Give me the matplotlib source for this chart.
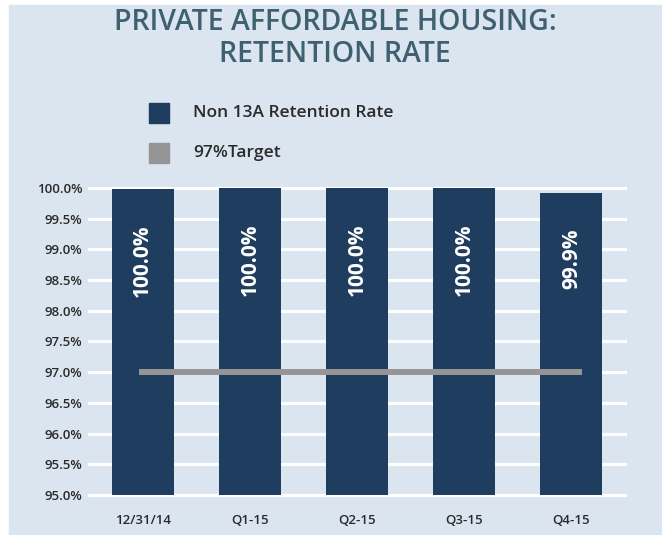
import matplotlib.pyplot as plt
import numpy as np
from matplotlib.patches import Rectangle

# data
periods = ['12/31/14', 'Q1-15', 'Q2-15', 'Q3-15', 'Q4-15']
retention = [99.98, 100.0, 100.0, 100.0, 99.92]
bar_labels = ['100.0%', '100.0%', '100.0%', '100.0%', '99.9%']
target = [97.0, 97.0]
series_names = ['Non 13A Retention Rate', '97%Target']
yticks = [95.0, 95.5, 96.0, 96.5, 97.0, 97.5, 98.0, 98.5, 99.0, 99.5, 100.0]

navy = '#1f3d5e'
grey = '#959595'
panel = '#dae5f0'
title_col = '#3e6070'
text_col = '#2a2a2a'

plt.rcParams['font.family'] = ['Open Sans', 'DejaVu Sans']

W, H = 662, 535
fig = plt.figure(figsize=(W / 100, H / 100), dpi=100, facecolor='white')

# light blue panel behind everything
fig.patches.append(Rectangle((9 / W, 1 / H), 1 - 9 / W, 1 - 6 / H,
                             transform=fig.transFigure, color=panel, zorder=-10))

fig.text(335 / W, 1 - 23 / H, 'PRIVATE AFFORDABLE HOUSING:', ha='center',
         va='center', color=title_col, fontsize=20.5, fontweight='semibold')
fig.text(335 / W, 1 - 55 / H, 'RETENTION RATE', ha='center',
         va='center', color=title_col, fontsize=20.5, fontweight='semibold')

# legend drawn by hand
leg_y = [113, 153]
for name, col, yy in zip(series_names, [navy, grey], leg_y):
    fig.patches.append(Rectangle((149 / W, 1 - (yy + 10) / H), 20 / W, 20 / H,
                                 transform=fig.transFigure, color=col))
    fig.text(193 / W, 1 - yy / H, name, ha='left', va='center',
             color=text_col, fontsize=12.5, fontweight='semibold')

ax = fig.add_axes([89 / W, 1 - 495 / H, (625 - 89) / W, (495 - 188) / H])
ax.set_facecolor('none')

x = np.arange(len(periods))
ax.bar(x, np.array(retention) - 95, bottom=95, width=0.58, color=navy, zorder=2)
for xi, v, lab in zip(x, retention, bar_labels):
    ax.text(xi, v - 0.58, lab, rotation=90, ha='center', va='top',
            color='white', fontsize=15, fontweight='bold', zorder=4)

ax.plot([x[0] - 0.03, x[-1] + 0.1], target, color=grey, lw=4.3,
        solid_capstyle='butt', zorder=3)

ax.set_xlim(-0.5, len(periods) - 0.5)
ax.set_ylim(95, 100)
ax.set_yticks(yticks)
ax.set_yticklabels([f'{t:.1f}%' for t in yticks])
ax.set_xticks(x)
ax.set_xticklabels(periods)
ax.tick_params(length=0, colors=text_col)
ax.tick_params(axis='y', pad=5, labelsize=9.5)
ax.tick_params(axis='x', pad=14, labelsize=9.5)
for lab in ax.get_xticklabels() + ax.get_yticklabels():
    lab.set_fontweight('semibold')
for s in ax.spines.values():
    s.set_visible(False)

ax.grid(axis='y', color='white', lw=2.3, zorder=1)
ax.set_axisbelow(True)
for gl in ax.get_ygridlines():
    gl.set_clip_on(False)

fig.savefig('out.png', dpi=100)
